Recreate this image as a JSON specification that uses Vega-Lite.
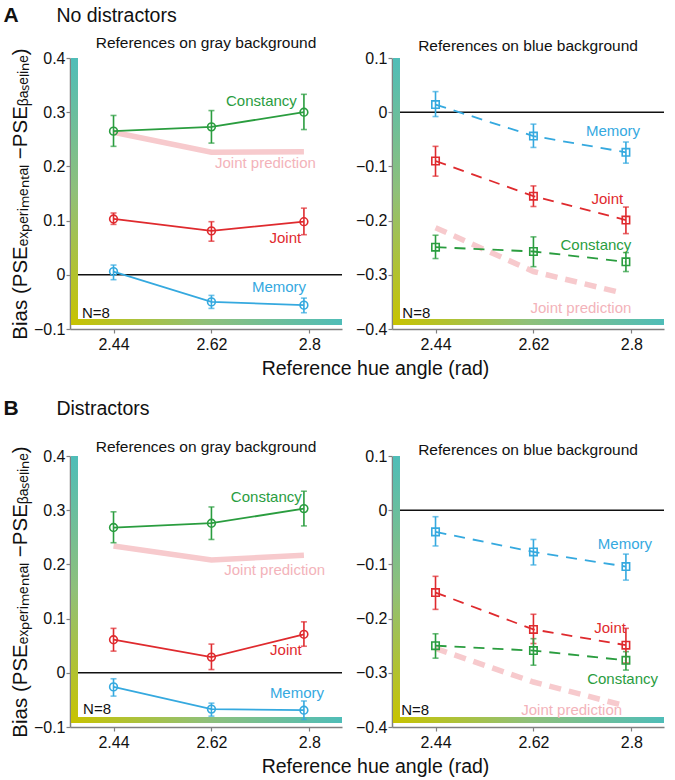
{
"$schema": "https://vega.github.io/schema/vega-lite/v6.json",
"padding": {"left": 3, "top": 4, "right": 5, "bottom": 5},
"background": "white",
"spacing": 19,
"config": {
  "view": {"stroke": null},
  "font": "Liberation Sans",
  "axis": {"grid": false, "domainColor": "#808080", "domainWidth": 1.5, "tickColor": "#808080", "tickSize": 4, "tickWidth": 1.2, "labelFont": "Liberation Sans", "labelFontSize": 16, "labelColor": "#111", "titleFont": "Liberation Sans", "titleFontSize": 19.5, "titleFontWeight": "normal", "titleColor": "#111", "labelPadding": 1},
  "axisX": {"titlePadding": 7, "labelPadding": 3},
  "axisY": {"titlePadding": 3, "titleFontSize": 20.5},
  "title": {"font": "Liberation Sans", "fontWeight": "normal", "color": "#111"},
  "text": {"font": "Liberation Sans"}
},
"datasets": {
  "rows": [
    {"kind": "pt", "cond": "A", "bg": "gray", "series": "Constancy", "x": 2.44, "y": 0.265, "lo": 0.237, "hi": 0.294},
    {"kind": "pt", "cond": "A", "bg": "gray", "series": "Constancy", "x": 2.62, "y": 0.273, "lo": 0.243, "hi": 0.303},
    {"kind": "pt", "cond": "A", "bg": "gray", "series": "Constancy", "x": 2.79, "y": 0.300, "lo": 0.268, "hi": 0.333},
    {"kind": "pt", "cond": "A", "bg": "gray", "series": "Joint", "x": 2.44, "y": 0.103, "lo": 0.093, "hi": 0.114},
    {"kind": "pt", "cond": "A", "bg": "gray", "series": "Joint", "x": 2.62, "y": 0.081, "lo": 0.062, "hi": 0.098},
    {"kind": "pt", "cond": "A", "bg": "gray", "series": "Joint", "x": 2.79, "y": 0.098, "lo": 0.074, "hi": 0.123},
    {"kind": "pt", "cond": "A", "bg": "gray", "series": "Memory", "x": 2.44, "y": 0.006, "lo": -0.009, "hi": 0.018},
    {"kind": "pt", "cond": "A", "bg": "gray", "series": "Memory", "x": 2.62, "y": -0.050, "lo": -0.062, "hi": -0.038},
    {"kind": "pt", "cond": "A", "bg": "gray", "series": "Memory", "x": 2.79, "y": -0.056, "lo": -0.070, "hi": -0.043},
    {"kind": "pred", "cond": "A", "bg": "gray", "x": 2.44, "y": 0.263},
    {"kind": "pred", "cond": "A", "bg": "gray", "x": 2.62, "y": 0.226},
    {"kind": "pred", "cond": "A", "bg": "gray", "x": 2.79, "y": 0.227},
    {"kind": "lab", "cond": "A", "bg": "gray", "series": "Constancy", "text": "Constancy", "x": 2.777, "y": 0.32},
    {"kind": "lab", "cond": "A", "bg": "gray", "series": "Joint prediction", "text": "Joint prediction", "x": 2.812, "y": 0.206},
    {"kind": "lab", "cond": "A", "bg": "gray", "series": "Joint", "text": "Joint", "x": 2.785, "y": 0.067},
    {"kind": "lab", "cond": "A", "bg": "gray", "series": "Memory", "text": "Memory", "x": 2.794, "y": -0.022},
    {"kind": "n", "cond": "A", "bg": "gray", "text": "N=8", "x": 2.382, "y": -0.071},

    {"kind": "pt", "cond": "A", "bg": "blue", "series": "Memory", "x": 2.44, "y": 0.014, "lo": -0.008, "hi": 0.038},
    {"kind": "pt", "cond": "A", "bg": "blue", "series": "Memory", "x": 2.62, "y": -0.044, "lo": -0.065, "hi": -0.022},
    {"kind": "pt", "cond": "A", "bg": "blue", "series": "Memory", "x": 2.79, "y": -0.074, "lo": -0.094, "hi": -0.055},
    {"kind": "pt", "cond": "A", "bg": "blue", "series": "Joint", "x": 2.44, "y": -0.090, "lo": -0.118, "hi": -0.063},
    {"kind": "pt", "cond": "A", "bg": "blue", "series": "Joint", "x": 2.62, "y": -0.155, "lo": -0.174, "hi": -0.136},
    {"kind": "pt", "cond": "A", "bg": "blue", "series": "Joint", "x": 2.79, "y": -0.199, "lo": -0.224, "hi": -0.175},
    {"kind": "pt", "cond": "A", "bg": "blue", "series": "Constancy", "x": 2.44, "y": -0.249, "lo": -0.270, "hi": -0.227},
    {"kind": "pt", "cond": "A", "bg": "blue", "series": "Constancy", "x": 2.62, "y": -0.257, "lo": -0.285, "hi": -0.230},
    {"kind": "pt", "cond": "A", "bg": "blue", "series": "Constancy", "x": 2.79, "y": -0.276, "lo": -0.294, "hi": -0.259},
    {"kind": "pred", "cond": "A", "bg": "blue", "x": 2.44, "y": -0.213},
    {"kind": "pred", "cond": "A", "bg": "blue", "x": 2.62, "y": -0.294},
    {"kind": "pred", "cond": "A", "bg": "blue", "x": 2.785, "y": -0.334},
    {"kind": "lab", "cond": "A", "bg": "blue", "series": "Memory", "text": "Memory", "x": 2.816, "y": -0.034},
    {"kind": "lab", "cond": "A", "bg": "blue", "series": "Joint", "text": "Joint", "x": 2.785, "y": -0.161},
    {"kind": "lab", "cond": "A", "bg": "blue", "series": "Constancy", "text": "Constancy", "x": 2.80, "y": -0.245},
    {"kind": "lab", "cond": "A", "bg": "blue", "series": "Joint prediction", "text": "Joint prediction", "x": 2.80, "y": -0.361},
    {"kind": "n", "cond": "A", "bg": "blue", "text": "N=8", "x": 2.379, "y": -0.371},

    {"kind": "pt", "cond": "B", "bg": "gray", "series": "Constancy", "x": 2.44, "y": 0.268, "lo": 0.240, "hi": 0.297},
    {"kind": "pt", "cond": "B", "bg": "gray", "series": "Constancy", "x": 2.62, "y": 0.276, "lo": 0.246, "hi": 0.306},
    {"kind": "pt", "cond": "B", "bg": "gray", "series": "Constancy", "x": 2.79, "y": 0.303, "lo": 0.271, "hi": 0.335},
    {"kind": "pt", "cond": "B", "bg": "gray", "series": "Joint", "x": 2.44, "y": 0.061, "lo": 0.040, "hi": 0.082},
    {"kind": "pt", "cond": "B", "bg": "gray", "series": "Joint", "x": 2.62, "y": 0.029, "lo": 0.006, "hi": 0.053},
    {"kind": "pt", "cond": "B", "bg": "gray", "series": "Joint", "x": 2.79, "y": 0.071, "lo": 0.049, "hi": 0.094},
    {"kind": "pt", "cond": "B", "bg": "gray", "series": "Memory", "x": 2.44, "y": -0.026, "lo": -0.043, "hi": -0.011},
    {"kind": "pt", "cond": "B", "bg": "gray", "series": "Memory", "x": 2.62, "y": -0.067, "lo": -0.080, "hi": -0.056},
    {"kind": "pt", "cond": "B", "bg": "gray", "series": "Memory", "x": 2.79, "y": -0.069, "lo": -0.086, "hi": -0.052},
    {"kind": "pred", "cond": "B", "bg": "gray", "x": 2.44, "y": 0.234},
    {"kind": "pred", "cond": "B", "bg": "gray", "x": 2.62, "y": 0.208},
    {"kind": "pred", "cond": "B", "bg": "gray", "x": 2.79, "y": 0.217},
    {"kind": "lab", "cond": "B", "bg": "gray", "series": "Constancy", "text": "Constancy", "x": 2.786, "y": 0.324},
    {"kind": "lab", "cond": "B", "bg": "gray", "series": "Joint prediction", "text": "Joint prediction", "x": 2.829, "y": 0.189},
    {"kind": "lab", "cond": "B", "bg": "gray", "series": "Joint", "text": "Joint", "x": 2.786, "y": 0.042},
    {"kind": "lab", "cond": "B", "bg": "gray", "series": "Memory", "text": "Memory", "x": 2.827, "y": -0.037},
    {"kind": "n", "cond": "B", "bg": "gray", "text": "N=8", "x": 2.384, "y": -0.067},

    {"kind": "pt", "cond": "B", "bg": "blue", "series": "Memory", "x": 2.44, "y": -0.040, "lo": -0.066, "hi": -0.012},
    {"kind": "pt", "cond": "B", "bg": "blue", "series": "Memory", "x": 2.62, "y": -0.077, "lo": -0.101, "hi": -0.054},
    {"kind": "pt", "cond": "B", "bg": "blue", "series": "Memory", "x": 2.79, "y": -0.104, "lo": -0.129, "hi": -0.081},
    {"kind": "pt", "cond": "B", "bg": "blue", "series": "Joint", "x": 2.44, "y": -0.152, "lo": -0.183, "hi": -0.122},
    {"kind": "pt", "cond": "B", "bg": "blue", "series": "Joint", "x": 2.62, "y": -0.220, "lo": -0.246, "hi": -0.192},
    {"kind": "pt", "cond": "B", "bg": "blue", "series": "Joint", "x": 2.79, "y": -0.249, "lo": -0.282, "hi": -0.218},
    {"kind": "pt", "cond": "B", "bg": "blue", "series": "Constancy", "x": 2.44, "y": -0.250, "lo": -0.273, "hi": -0.228},
    {"kind": "pt", "cond": "B", "bg": "blue", "series": "Constancy", "x": 2.62, "y": -0.259, "lo": -0.286, "hi": -0.237},
    {"kind": "pt", "cond": "B", "bg": "blue", "series": "Constancy", "x": 2.79, "y": -0.277, "lo": -0.295, "hi": -0.261},
    {"kind": "pred", "cond": "B", "bg": "blue", "x": 2.44, "y": -0.255},
    {"kind": "pred", "cond": "B", "bg": "blue", "x": 2.62, "y": -0.317},
    {"kind": "pred", "cond": "B", "bg": "blue", "x": 2.785, "y": -0.360},
    {"kind": "lab", "cond": "B", "bg": "blue", "series": "Memory", "text": "Memory", "x": 2.838, "y": -0.063},
    {"kind": "lab", "cond": "B", "bg": "blue", "series": "Joint", "text": "Joint", "x": 2.79, "y": -0.218},
    {"kind": "lab", "cond": "B", "bg": "blue", "series": "Constancy", "text": "Constancy", "x": 2.849, "y": -0.312},
    {"kind": "lab", "cond": "B", "bg": "blue", "series": "Joint prediction", "text": "Joint prediction", "x": 2.783, "y": -0.368},
    {"kind": "n", "cond": "B", "bg": "blue", "text": "N=8", "x": 2.377, "y": -0.369}
  ]
},
"vconcat": [
 {
  "title": {"text": "A", "anchor": "start", "fontSize": 21, "fontWeight": "bold", "offset": -20, "dx": -7},
  "vconcat": [{
   "title": {"text": "No distractors", "anchor": "start", "fontSize": 19.5, "offset": 10, "dx": 46},
   "bounds": "flush",
   "spacing": 50,
   "hconcat": [
    {
     "width": 272, "height": 271,
     "title": {"text": "References on gray background", "fontSize": 15.5, "offset": -4},
     "layer": [
      {"data": {"name": "rows"}, "transform": [{"filter": "datum.cond === 'A' && datum.bg === 'gray' && datum.kind === 'pred'"}], "mark": {"type": "line", "color": "#f7cacd", "strokeWidth": 5.5, "strokeCap": "butt"},
       "encoding": {
         "x": {"field": "x", "type": "quantitative", "title": "Reference hue angle (rad)", "scale": {"domain": [2.36, 2.86], "nice": false, "zero": false}, "axis": {"values": [2.44, 2.62, 2.8], "format": ".3~r", "titleX": 305}},
         "y": {"field": "y", "type": "quantitative", "title": "Bias (PSEₑₓₚₑᵣᵢₘₑₙₜₐₗ −PSEᵦₐₛₑₗᵢₙₑ)", "scale": {"domain": [-0.1, 0.4], "nice": false, "zero": false}, "axis": {"values": [-0.1, 0, 0.1, 0.2, 0.3, 0.4], "format": ".1~f"}}}},
      {"data": {"values": [{}]}, "mark": {"type": "rule", "color": "#111", "strokeWidth": 1.6}, "encoding": {"x": {"datum": 2.37}, "x2": {"datum": 2.86}, "y": {"datum": 0}}},
      {"data": {"values": [{}]}, "mark": {"type": "rect", "fill": {"gradient": "linear", "x1": 0, "y1": 0, "x2": 0, "y2": 1, "stops": [{"offset": 0, "color": "#4fbdb8"}, {"offset": 0.5, "color": "#8fc07a"}, {"offset": 1, "color": "#c8c300"}]}}, "encoding": {"x": {"datum": 2.3618}, "x2": {"datum": 2.3747}, "y": {"datum": 0.4}, "y2": {"datum": -0.0926}}},
      {"data": {"values": [{}]}, "mark": {"type": "rect", "fill": {"gradient": "linear", "x1": 0, "y1": 0, "x2": 1, "y2": 0, "stops": [{"offset": 0, "color": "#c8c300"}, {"offset": 0.5, "color": "#8fc07a"}, {"offset": 1, "color": "#4fbdb8"}]}}, "encoding": {"x": {"datum": 2.3618}, "x2": {"datum": 2.86}, "y": {"datum": -0.0926}, "y2": {"datum": -0.0815}}},
      {"data": {"name": "rows"}, "transform": [{"filter": "datum.cond === 'A' && datum.bg === 'gray' && datum.kind === 'pt'"}], "mark": {"type": "line", "strokeWidth": 1.8}, "encoding": {"x": {"field": "x", "type": "quantitative", "title": "Reference hue angle (rad)"}, "y": {"field": "y", "type": "quantitative", "title": "Bias (PSEₑₓₚₑᵣᵢₘₑₙₜₐₗ −PSEᵦₐₛₑₗᵢₙₑ)"}, "color": {"field": "series", "type": "nominal", "scale": {"domain": ["Constancy", "Joint", "Memory", "Joint prediction"], "range": ["#2a9d3f", "#df2a2e", "#35a9df", "#f3b3ba"]}, "legend": null}}},
      {"data": {"name": "rows"}, "transform": [{"filter": "datum.cond === 'A' && datum.bg === 'gray' && datum.kind === 'pt'"}], "mark": {"type": "errorbar", "ticks": {"size": 6}, "thickness": 1.6}, "encoding": {"x": {"field": "x", "type": "quantitative", "title": "Reference hue angle (rad)"}, "y": {"field": "lo", "type": "quantitative", "title": "Bias (PSEₑₓₚₑᵣᵢₘₑₙₜₐₗ −PSEᵦₐₛₑₗᵢₙₑ)"}, "y2": {"field": "hi"}, "color": {"field": "series", "type": "nominal", "legend": null}}},
      {"data": {"name": "rows"}, "transform": [{"filter": "datum.cond === 'A' && datum.bg === 'gray' && datum.kind === 'pt'"}], "mark": {"type": "point", "shape": "circle", "filled": false, "strokeWidth": 1.6, "size": 60, "opacity": 1}, "encoding": {"x": {"field": "x", "type": "quantitative", "title": "Reference hue angle (rad)"}, "y": {"field": "y", "type": "quantitative", "title": "Bias (PSEₑₓₚₑᵣᵢₘₑₙₜₐₗ −PSEᵦₐₛₑₗᵢₙₑ)"}, "color": {"field": "series", "type": "nominal", "legend": null}}},
      {"data": {"name": "rows"}, "transform": [{"filter": "datum.cond === 'A' && datum.bg === 'gray' && datum.kind === 'lab'"}], "mark": {"type": "text", "align": "right", "baseline": "middle", "fontSize": 15}, "encoding": {"x": {"field": "x", "type": "quantitative", "title": "Reference hue angle (rad)"}, "y": {"field": "y", "type": "quantitative", "title": "Bias (PSEₑₓₚₑᵣᵢₘₑₙₜₐₗ −PSEᵦₐₛₑₗᵢₙₑ)"}, "text": {"field": "text"}, "color": {"field": "series", "type": "nominal", "legend": null}}},
      {"data": {"name": "rows"}, "transform": [{"filter": "datum.cond === 'A' && datum.bg === 'gray' && datum.kind === 'n'"}], "mark": {"type": "text", "align": "left", "baseline": "middle", "fontSize": 15, "color": "#111"}, "encoding": {"x": {"field": "x", "type": "quantitative", "title": "Reference hue angle (rad)"}, "y": {"field": "y", "type": "quantitative", "title": "Bias (PSEₑₓₚₑᵣᵢₘₑₙₜₐₗ −PSEᵦₐₛₑₗᵢₙₑ)"}, "text": {"field": "text"}}}
     ]
    },
    {
     "width": 272, "height": 271,
     "title": {"text": "References on blue background", "fontSize": 15.5, "offset": -4},
     "layer": [
      {"data": {"name": "rows"}, "transform": [{"filter": "datum.cond === 'A' && datum.bg === 'blue' && datum.kind === 'pred'"}], "mark": {"type": "line", "color": "#f7cacd", "strokeWidth": 5.5, "strokeCap": "butt", "strokeDash": [12, 8]},
       "encoding": {
         "x": {"field": "x", "type": "quantitative", "title": null, "scale": {"domain": [2.36, 2.86], "nice": false, "zero": false}, "axis": {"values": [2.44, 2.62, 2.8], "format": ".3~r"}},
         "y": {"field": "y", "type": "quantitative", "title": null, "scale": {"domain": [-0.4, 0.1], "nice": false, "zero": false}, "axis": {"values": [-0.4, -0.3, -0.2, -0.1, 0, 0.1], "format": ".1~f"}}}},
      {"data": {"values": [{}]}, "mark": {"type": "rule", "color": "#111", "strokeWidth": 1.6}, "encoding": {"x": {"datum": 2.37}, "x2": {"datum": 2.86}, "y": {"datum": 0}}},
      {"data": {"values": [{}]}, "mark": {"type": "rect", "fill": {"gradient": "linear", "x1": 0, "y1": 0, "x2": 0, "y2": 1, "stops": [{"offset": 0, "color": "#4fbdb8"}, {"offset": 0.5, "color": "#8fc07a"}, {"offset": 1, "color": "#c8c300"}]}}, "encoding": {"x": {"datum": 2.3618}, "x2": {"datum": 2.3747}, "y": {"datum": 0.1}, "y2": {"datum": -0.3926}}},
      {"data": {"values": [{}]}, "mark": {"type": "rect", "fill": {"gradient": "linear", "x1": 0, "y1": 0, "x2": 1, "y2": 0, "stops": [{"offset": 0, "color": "#c8c300"}, {"offset": 0.5, "color": "#8fc07a"}, {"offset": 1, "color": "#4fbdb8"}]}}, "encoding": {"x": {"datum": 2.3618}, "x2": {"datum": 2.86}, "y": {"datum": -0.3926}, "y2": {"datum": -0.3815}}},
      {"data": {"name": "rows"}, "transform": [{"filter": "datum.cond === 'A' && datum.bg === 'blue' && datum.kind === 'pt'"}], "mark": {"type": "line", "strokeWidth": 1.8, "strokeDash": [11, 8]}, "encoding": {"x": {"field": "x", "type": "quantitative", "title": null}, "y": {"field": "y", "type": "quantitative", "title": null}, "color": {"field": "series", "type": "nominal", "legend": null}}},
      {"data": {"name": "rows"}, "transform": [{"filter": "datum.cond === 'A' && datum.bg === 'blue' && datum.kind === 'pt'"}], "mark": {"type": "errorbar", "ticks": {"size": 6}, "thickness": 1.6}, "encoding": {"x": {"field": "x", "type": "quantitative", "title": null}, "y": {"field": "lo", "type": "quantitative", "title": null}, "y2": {"field": "hi"}, "color": {"field": "series", "type": "nominal", "legend": null}}},
      {"data": {"name": "rows"}, "transform": [{"filter": "datum.cond === 'A' && datum.bg === 'blue' && datum.kind === 'pt'"}], "mark": {"type": "point", "shape": "square", "filled": false, "strokeWidth": 1.6, "size": 55, "opacity": 1}, "encoding": {"x": {"field": "x", "type": "quantitative", "title": null}, "y": {"field": "y", "type": "quantitative", "title": null}, "color": {"field": "series", "type": "nominal", "legend": null}}},
      {"data": {"name": "rows"}, "transform": [{"filter": "datum.cond === 'A' && datum.bg === 'blue' && datum.kind === 'lab'"}], "mark": {"type": "text", "align": "right", "baseline": "middle", "fontSize": 15}, "encoding": {"x": {"field": "x", "type": "quantitative", "title": null}, "y": {"field": "y", "type": "quantitative", "title": null}, "text": {"field": "text"}, "color": {"field": "series", "type": "nominal", "legend": null}}},
      {"data": {"name": "rows"}, "transform": [{"filter": "datum.cond === 'A' && datum.bg === 'blue' && datum.kind === 'n'"}], "mark": {"type": "text", "align": "left", "baseline": "middle", "fontSize": 15, "color": "#111"}, "encoding": {"x": {"field": "x", "type": "quantitative", "title": null}, "y": {"field": "y", "type": "quantitative", "title": null}, "text": {"field": "text"}}}
     ]
    }
   ]
  }]
 },
 {
  "title": {"text": "B", "anchor": "start", "fontSize": 21, "fontWeight": "bold", "offset": -20, "dx": -7},
  "vconcat": [{
   "title": {"text": "Distractors", "anchor": "start", "fontSize": 19.5, "offset": 21, "dx": 46},
   "bounds": "flush",
   "spacing": 50,
   "hconcat": [
    {
     "width": 272, "height": 271,
     "title": {"text": "References on gray background", "fontSize": 15.5, "offset": -10},
     "layer": [
      {"data": {"name": "rows"}, "transform": [{"filter": "datum.cond === 'B' && datum.bg === 'gray' && datum.kind === 'pred'"}], "mark": {"type": "line", "color": "#f7cacd", "strokeWidth": 5.5, "strokeCap": "butt"},
       "encoding": {
         "x": {"field": "x", "type": "quantitative", "title": "Reference hue angle (rad)", "scale": {"domain": [2.36, 2.86], "nice": false, "zero": false}, "axis": {"values": [2.44, 2.62, 2.8], "format": ".3~r", "titleX": 305}},
         "y": {"field": "y", "type": "quantitative", "title": "Bias (PSEₑₓₚₑᵣᵢₘₑₙₜₐₗ −PSEᵦₐₛₑₗᵢₙₑ)", "scale": {"domain": [-0.1, 0.4], "nice": false, "zero": false}, "axis": {"values": [-0.1, 0, 0.1, 0.2, 0.3, 0.4], "format": ".1~f"}}}},
      {"data": {"values": [{}]}, "mark": {"type": "rule", "color": "#111", "strokeWidth": 1.6}, "encoding": {"x": {"datum": 2.37}, "x2": {"datum": 2.86}, "y": {"datum": 0}}},
      {"data": {"values": [{}]}, "mark": {"type": "rect", "fill": {"gradient": "linear", "x1": 0, "y1": 0, "x2": 0, "y2": 1, "stops": [{"offset": 0, "color": "#4fbdb8"}, {"offset": 0.5, "color": "#8fc07a"}, {"offset": 1, "color": "#c8c300"}]}}, "encoding": {"x": {"datum": 2.3618}, "x2": {"datum": 2.3747}, "y": {"datum": 0.4}, "y2": {"datum": -0.0926}}},
      {"data": {"values": [{}]}, "mark": {"type": "rect", "fill": {"gradient": "linear", "x1": 0, "y1": 0, "x2": 1, "y2": 0, "stops": [{"offset": 0, "color": "#c8c300"}, {"offset": 0.5, "color": "#8fc07a"}, {"offset": 1, "color": "#4fbdb8"}]}}, "encoding": {"x": {"datum": 2.3618}, "x2": {"datum": 2.86}, "y": {"datum": -0.0926}, "y2": {"datum": -0.0815}}},
      {"data": {"name": "rows"}, "transform": [{"filter": "datum.cond === 'B' && datum.bg === 'gray' && datum.kind === 'pt'"}], "mark": {"type": "line", "strokeWidth": 1.8}, "encoding": {"x": {"field": "x", "type": "quantitative", "title": "Reference hue angle (rad)"}, "y": {"field": "y", "type": "quantitative", "title": "Bias (PSEₑₓₚₑᵣᵢₘₑₙₜₐₗ −PSEᵦₐₛₑₗᵢₙₑ)"}, "color": {"field": "series", "type": "nominal", "legend": null}}},
      {"data": {"name": "rows"}, "transform": [{"filter": "datum.cond === 'B' && datum.bg === 'gray' && datum.kind === 'pt'"}], "mark": {"type": "errorbar", "ticks": {"size": 6}, "thickness": 1.6}, "encoding": {"x": {"field": "x", "type": "quantitative", "title": "Reference hue angle (rad)"}, "y": {"field": "lo", "type": "quantitative", "title": "Bias (PSEₑₓₚₑᵣᵢₘₑₙₜₐₗ −PSEᵦₐₛₑₗᵢₙₑ)"}, "y2": {"field": "hi"}, "color": {"field": "series", "type": "nominal", "legend": null}}},
      {"data": {"name": "rows"}, "transform": [{"filter": "datum.cond === 'B' && datum.bg === 'gray' && datum.kind === 'pt'"}], "mark": {"type": "point", "shape": "circle", "filled": false, "strokeWidth": 1.6, "size": 60, "opacity": 1}, "encoding": {"x": {"field": "x", "type": "quantitative", "title": "Reference hue angle (rad)"}, "y": {"field": "y", "type": "quantitative", "title": "Bias (PSEₑₓₚₑᵣᵢₘₑₙₜₐₗ −PSEᵦₐₛₑₗᵢₙₑ)"}, "color": {"field": "series", "type": "nominal", "legend": null}}},
      {"data": {"name": "rows"}, "transform": [{"filter": "datum.cond === 'B' && datum.bg === 'gray' && datum.kind === 'lab'"}], "mark": {"type": "text", "align": "right", "baseline": "middle", "fontSize": 15}, "encoding": {"x": {"field": "x", "type": "quantitative", "title": "Reference hue angle (rad)"}, "y": {"field": "y", "type": "quantitative", "title": "Bias (PSEₑₓₚₑᵣᵢₘₑₙₜₐₗ −PSEᵦₐₛₑₗᵢₙₑ)"}, "text": {"field": "text"}, "color": {"field": "series", "type": "nominal", "legend": null}}},
      {"data": {"name": "rows"}, "transform": [{"filter": "datum.cond === 'B' && datum.bg === 'gray' && datum.kind === 'n'"}], "mark": {"type": "text", "align": "left", "baseline": "middle", "fontSize": 15, "color": "#111"}, "encoding": {"x": {"field": "x", "type": "quantitative", "title": "Reference hue angle (rad)"}, "y": {"field": "y", "type": "quantitative", "title": "Bias (PSEₑₓₚₑᵣᵢₘₑₙₜₐₗ −PSEᵦₐₛₑₗᵢₙₑ)"}, "text": {"field": "text"}}}
     ]
    },
    {
     "width": 272, "height": 271,
     "title": {"text": "References on blue background", "fontSize": 15.5, "offset": -10},
     "layer": [
      {"data": {"name": "rows"}, "transform": [{"filter": "datum.cond === 'B' && datum.bg === 'blue' && datum.kind === 'pred'"}], "mark": {"type": "line", "color": "#f7cacd", "strokeWidth": 5.5, "strokeCap": "butt", "strokeDash": [12, 8]},
       "encoding": {
         "x": {"field": "x", "type": "quantitative", "title": null, "scale": {"domain": [2.36, 2.86], "nice": false, "zero": false}, "axis": {"values": [2.44, 2.62, 2.8], "format": ".3~r"}},
         "y": {"field": "y", "type": "quantitative", "title": null, "scale": {"domain": [-0.4, 0.1], "nice": false, "zero": false}, "axis": {"values": [-0.4, -0.3, -0.2, -0.1, 0, 0.1], "format": ".1~f"}}}},
      {"data": {"values": [{}]}, "mark": {"type": "rule", "color": "#111", "strokeWidth": 1.6}, "encoding": {"x": {"datum": 2.37}, "x2": {"datum": 2.86}, "y": {"datum": 0}}},
      {"data": {"values": [{}]}, "mark": {"type": "rect", "fill": {"gradient": "linear", "x1": 0, "y1": 0, "x2": 0, "y2": 1, "stops": [{"offset": 0, "color": "#4fbdb8"}, {"offset": 0.5, "color": "#8fc07a"}, {"offset": 1, "color": "#c8c300"}]}}, "encoding": {"x": {"datum": 2.3618}, "x2": {"datum": 2.3747}, "y": {"datum": 0.1}, "y2": {"datum": -0.3926}}},
      {"data": {"values": [{}]}, "mark": {"type": "rect", "fill": {"gradient": "linear", "x1": 0, "y1": 0, "x2": 1, "y2": 0, "stops": [{"offset": 0, "color": "#c8c300"}, {"offset": 0.5, "color": "#8fc07a"}, {"offset": 1, "color": "#4fbdb8"}]}}, "encoding": {"x": {"datum": 2.3618}, "x2": {"datum": 2.86}, "y": {"datum": -0.3926}, "y2": {"datum": -0.3815}}},
      {"data": {"name": "rows"}, "transform": [{"filter": "datum.cond === 'B' && datum.bg === 'blue' && datum.kind === 'pt'"}], "mark": {"type": "line", "strokeWidth": 1.8, "strokeDash": [11, 8]}, "encoding": {"x": {"field": "x", "type": "quantitative", "title": null}, "y": {"field": "y", "type": "quantitative", "title": null}, "color": {"field": "series", "type": "nominal", "legend": null}}},
      {"data": {"name": "rows"}, "transform": [{"filter": "datum.cond === 'B' && datum.bg === 'blue' && datum.kind === 'pt'"}], "mark": {"type": "errorbar", "ticks": {"size": 6}, "thickness": 1.6}, "encoding": {"x": {"field": "x", "type": "quantitative", "title": null}, "y": {"field": "lo", "type": "quantitative", "title": null}, "y2": {"field": "hi"}, "color": {"field": "series", "type": "nominal", "legend": null}}},
      {"data": {"name": "rows"}, "transform": [{"filter": "datum.cond === 'B' && datum.bg === 'blue' && datum.kind === 'pt'"}], "mark": {"type": "point", "shape": "square", "filled": false, "strokeWidth": 1.6, "size": 55, "opacity": 1}, "encoding": {"x": {"field": "x", "type": "quantitative", "title": null}, "y": {"field": "y", "type": "quantitative", "title": null}, "color": {"field": "series", "type": "nominal", "legend": null}}},
      {"data": {"name": "rows"}, "transform": [{"filter": "datum.cond === 'B' && datum.bg === 'blue' && datum.kind === 'lab'"}], "mark": {"type": "text", "align": "right", "baseline": "middle", "fontSize": 15}, "encoding": {"x": {"field": "x", "type": "quantitative", "title": null}, "y": {"field": "y", "type": "quantitative", "title": null}, "text": {"field": "text"}, "color": {"field": "series", "type": "nominal", "legend": null}}},
      {"data": {"name": "rows"}, "transform": [{"filter": "datum.cond === 'B' && datum.bg === 'blue' && datum.kind === 'n'"}], "mark": {"type": "text", "align": "left", "baseline": "middle", "fontSize": 15, "color": "#111"}, "encoding": {"x": {"field": "x", "type": "quantitative", "title": null}, "y": {"field": "y", "type": "quantitative", "title": null}, "text": {"field": "text"}}}
     ]
    }
   ]
  }]
 }
]
}
